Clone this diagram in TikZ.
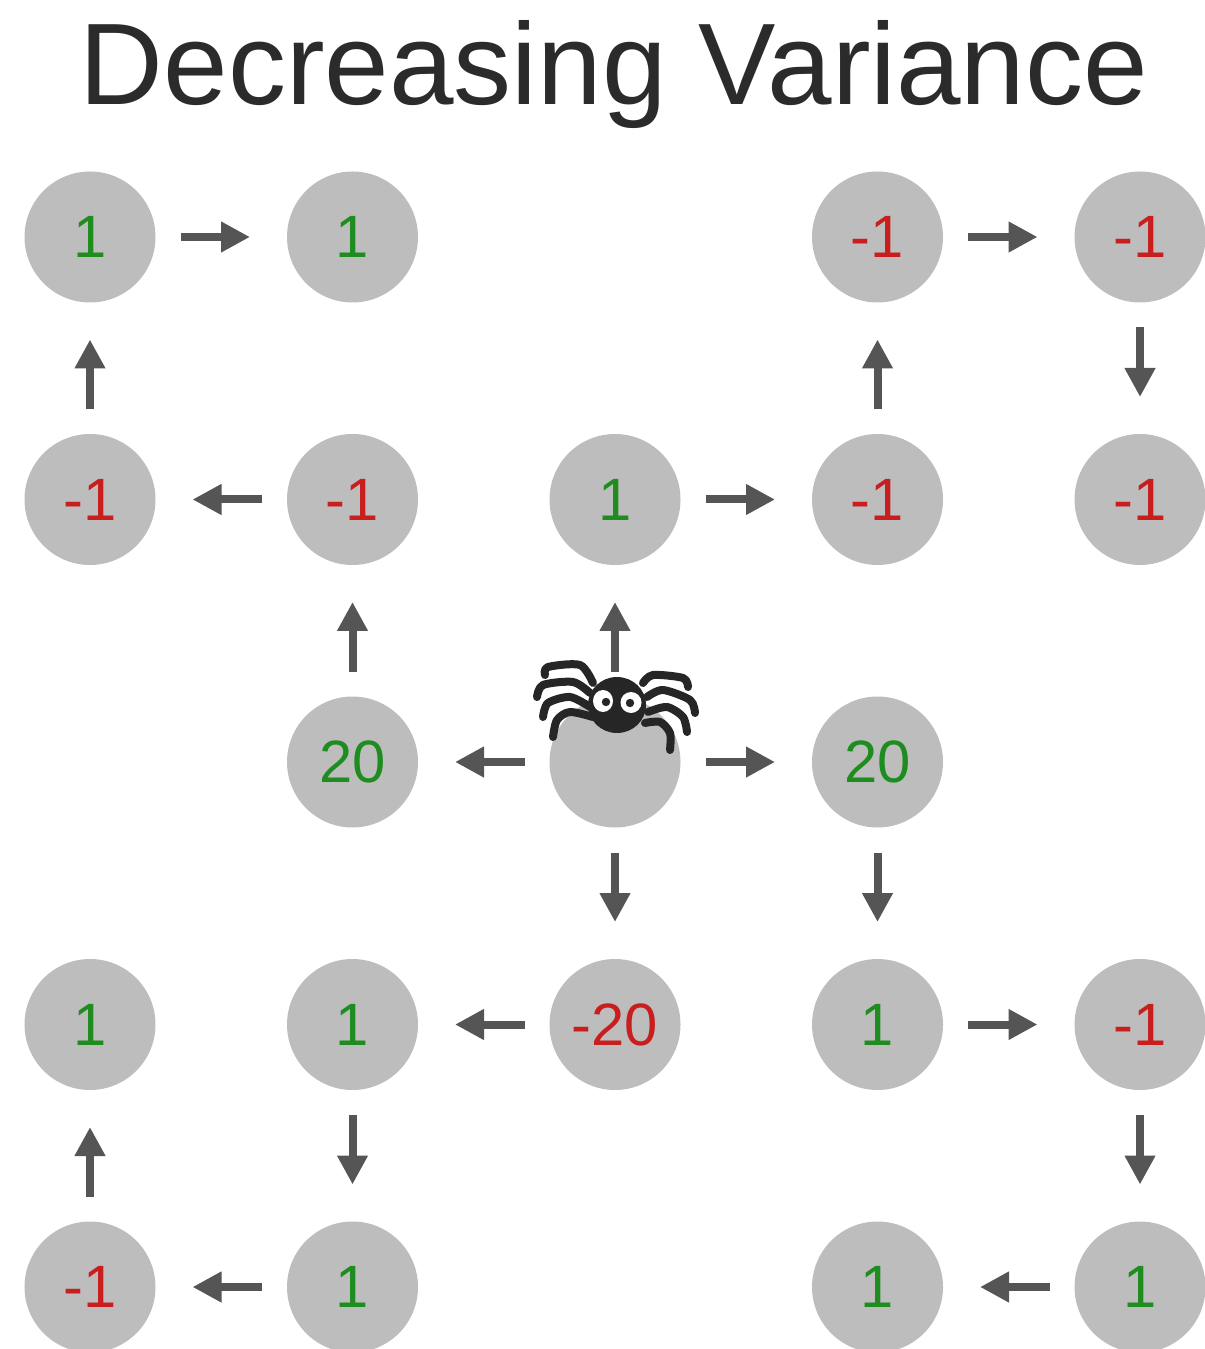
\documentclass[tikz,border=0pt]{standalone}
\usepackage{fontspec}
\setmainfont{Liberation Sans}
\usepackage{tikz}
\usetikzlibrary{arrows.meta}
\definecolor{cinza}{HTML}{BDBDBD}
\definecolor{escuro}{HTML}{555555}
\definecolor{titulo}{HTML}{2B2B2B}
\definecolor{verde}{HTML}{1E8C1E}
\definecolor{vermelho}{HTML}{C81E1E}
\definecolor{aranha}{HTML}{262626}

\begin{document}
\begin{tikzpicture}[>={Triangle[length=0.29cm,width=0.29cm]},
    estado/.style={circle, fill=cinza, minimum size=1.31cm, inner sep=0pt, outer sep=0pt,
                   font=\fontsize{17}{17}\selectfont},
    passo/.style={->, draw=escuro, line width=0.08cm, shorten <=0.25cm, shorten >=0.37cm},
    perna/.style={aranha, line width=0.08cm, line cap=round, line join=round}]
  \useasboundingbox (0,0) rectangle (12.04,-13.49);
  \node[titulo, anchor=base, font=\fontsize{33}{36}\selectfont] (titulo) at (6.14,-1.05) {Decreasing Variance};
  % grade de estados: linha/coluna/valor/cor
  \foreach \r/\c/\v/\t in {1/1/1/verde, 1/2/1/verde, 1/4/-1/vermelho, 1/5/-1/vermelho,
                           2/1/-1/vermelho, 2/2/-1/vermelho, 2/3/1/verde, 2/4/-1/vermelho, 2/5/-1/vermelho,
                           3/2/20/verde, 3/3/{}/verde, 3/4/20/verde,
                           4/1/1/verde, 4/2/1/verde, 4/3/-20/vermelho, 4/4/1/verde, 4/5/-1/vermelho,
                           5/1/-1/vermelho, 5/2/1/verde, 5/4/1/verde, 5/5/1/verde}{
    \node[estado, text=\t] (n\r\c) at ({0.9+2.625*(\c-1)},{-2.37-2.625*(\r-1)}) {\v};
  }
  \foreach \a/\b in {n11/n12, n14/n15, n21/n11, n24/n14, n15/n25, n22/n21, n23/n24,
                     n32/n22, n33/n23, n33/n32, n33/n34, n33/n43, n34/n44,
                     n43/n42, n44/n45, n42/n52, n51/n41, n45/n55, n52/n51, n55/n54}{
    \draw[passo] (\a) -- (\b);
  }
  % aranha sobre o estado inicial
  \begin{scope}[shift={(6.17,-7.05)}]
    \draw[perna] plot[smooth] coordinates {(-0.24,0.22) (-0.37,0.40) (-0.69,0.38) (-0.72,0.30)};
    \draw[perna] plot[smooth] coordinates {(-0.27,0.12) (-0.44,0.23) (-0.74,0.20) (-0.80,0.08)};
    \draw[perna] plot[smooth] coordinates {(-0.27,-0.02) (-0.47,0.08) (-0.69,0.02) (-0.74,-0.12)};
    \draw[perna] plot[smooth] coordinates {(-0.24,-0.12) (-0.47,-0.07) (-0.60,-0.15) (-0.64,-0.32)};
    \draw[perna] plot[smooth] coordinates {(0.26,0.22) (0.36,0.30) (0.66,0.27) (0.71,0.18)};
    \draw[perna] plot[smooth] coordinates {(0.30,0.08) (0.46,0.15) (0.73,0.05) (0.78,-0.08)};
    \draw[perna] plot[smooth] coordinates {(0.31,-0.07) (0.50,-0.02) (0.66,-0.12) (0.70,-0.27)};
    \draw[perna] plot[smooth] coordinates {(0.28,-0.18) (0.43,-0.17) (0.53,-0.28) (0.53,-0.45)};
    \fill[aranha] (0,0) ellipse [x radius=0.29, y radius=0.28];
    \fill[white] (-0.14,0.04) ellipse [x radius=0.10, y radius=0.11];
    \fill[white] (0.14,0.025) ellipse [x radius=0.105, y radius=0.105];
    \fill[aranha] (-0.11,0.03) circle (0.042);
    \fill[aranha] (0.13,0.02) circle (0.042);
  \end{scope}
\end{tikzpicture}
\end{document}
